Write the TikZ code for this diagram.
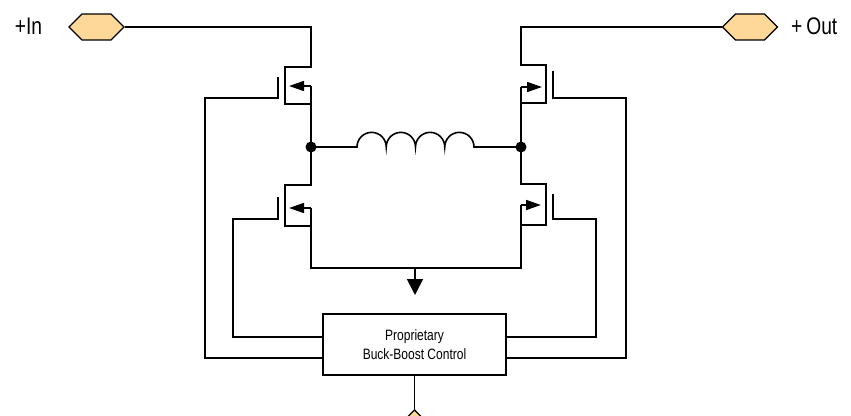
\documentclass[tikz,border=0pt]{standalone}
\usepackage{fontspec}
\newfontfamily\condfont{Liberation Sans}[FakeStretch=0.8]
\usetikzlibrary{calc,shapes.symbols,arrows.meta}
\definecolor{pinfill}{RGB}{253,216,152}

\begin{document}
\begin{tikzpicture}[x=1pt,y=-1pt,line width=1.6pt,
	pin/.style={draw,fill=pinfill,shape=signal,signal pointer angle=90,inner sep=0pt,line width=1.3pt},
	srcarrow/.style={-{Triangle[length=15pt,width=10pt]}},
	gndarrow/.style={-{Triangle[length=16pt,width=16pt]}},
	ctrlbox/.style={draw,minimum width=183pt,minimum height=61pt,align=center,font=\condfont\fontsize{15}{19}\selectfont}]
	
	\path[use as bounding box,clip] (0,0) rectangle (851,415);
	
	\node[pin,signal to=west and east,minimum width=55pt,minimum height=26pt] (inpin) at (96.5,27) {};
	\node[pin,signal to=west and east,minimum width=55pt,minimum height=26pt] (outpin) at (750,27) {};
	\node[pin,signal to=north and south,minimum width=26pt,minimum height=55pt,anchor=north] (gndpin) at (414.5,409) {};
	\node[font=\condfont\fontsize{24}{24}\selectfont] (inlbl) at (28.5,26.5) {+In};
	\node[font=\condfont\fontsize{24}{24}\selectfont,anchor=west] (outlbl) at (787,26.5) {+\,Out};
	
	\node[ctrlbox] (ctrl) at (414.5,344.5) {Proprietary\\Buck-Boost Control};
	
	\coordinate (JL) at (311,147);
	\coordinate (JR) at (521,147);
	\coordinate (gnd) at (415,268);
	
	% upper left
	\draw (inpin.east) -| (311,67) -- (285,67) -- (285,104) -- (311,104);
	\draw (JL) -- (311,86);
	\draw[srcarrow] (311,86) -- (289,86);
	\draw (278,77) -- (278,98) -- (205,98) |- (ctrl.west |- 0,358);
	
	% lower left
	\draw (JL) -- (311,185) -- (285,185) -- (285,226) -- (311,226);
	\draw (311,208) -- (311,268) -- (gnd);
	\draw[srcarrow] (311,208) -- (289,208);
	\draw (278,197) -- (278,219) -- (233,219) |- (ctrl.west |- 0,337);
	
	% upper right
	\draw (outpin.west) -| (521,65) -- (546,65) -- (546,103) -- (521,103);
	\draw (JR) -- (521,87);
	\draw[srcarrow] (521,87) -- (542,87);
	\draw (553,71) -- (553,98) -- (626,98) |- (ctrl.east |- 0,358);
	
	% lower right
	\draw (JR) -- (521,184) -- (546,184) -- (546,225) -- (521,225);
	\draw (521,205) -- (521,268) -- (gnd);
	\draw[srcarrow] (521,205) -- (541,205);
	\draw (553,194) -- (553,219) -- (596,219) |- (ctrl.east |- 0,337);
	
	\draw (JL) -- (357,147) arc[start angle=180,end angle=360,radius=14.625]
		arc[start angle=180,end angle=360,radius=14.625]
		arc[start angle=180,end angle=360,radius=14.625]
		arc[start angle=180,end angle=360,radius=14.625] -- (JR);
	\fill (JL) circle (5.5pt);
	\fill (JR) circle (5.5pt);
	
	\draw[gndarrow] (gnd) -- (415,295);
	\draw (ctrl.south) -- (gndpin.north);
	
\end{tikzpicture}
\end{document}
